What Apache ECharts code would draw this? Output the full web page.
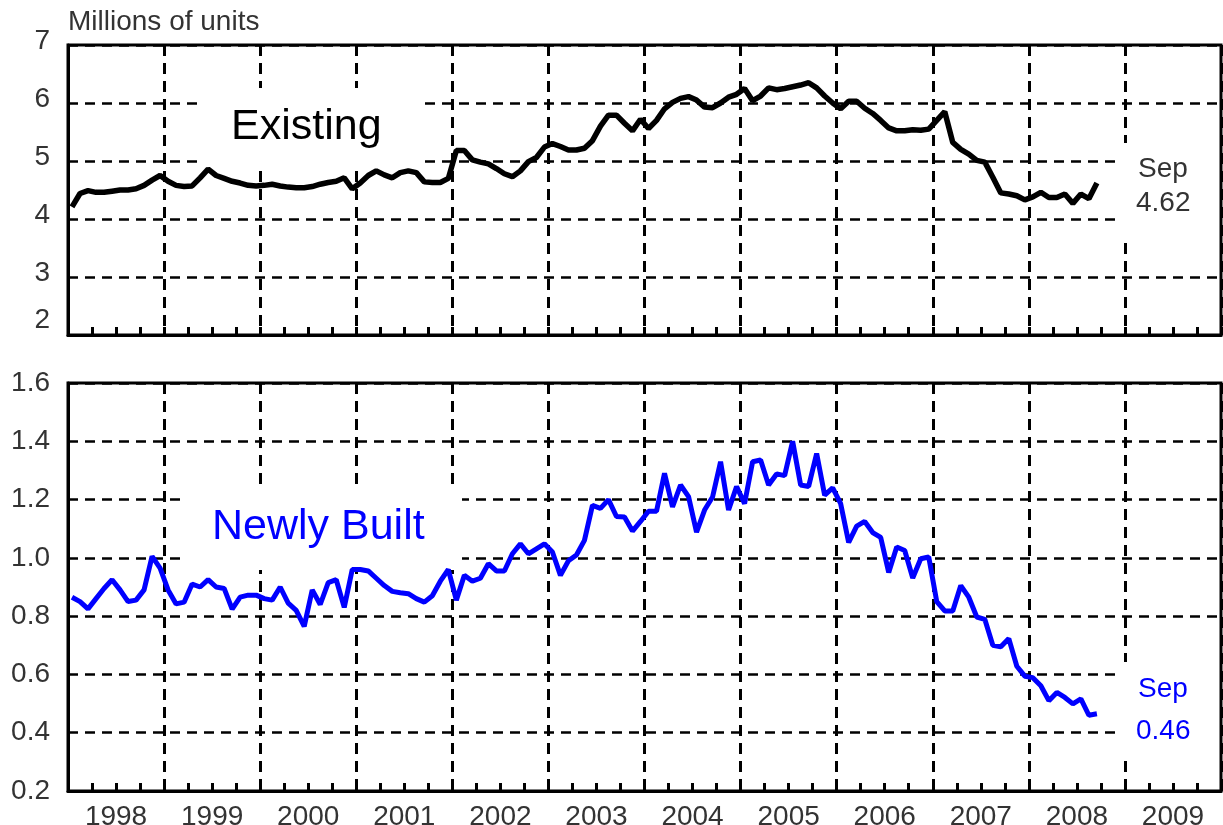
<!DOCTYPE html>
<html>
<head>
<meta charset="utf-8">
<script src="https://cdn.jsdelivr.net/npm/echarts@6/dist/echarts.min.js"></script>
<style>
    html, body { margin: 0; padding: 0; background: #fff; }
    #chart { width: 1223px; height: 825px; }
</style>
</head>
<body>
<div id="chart"></div>
<script>
// monthly series, Jan 1998 .. Sep 2008 (millions of units, annual rate)
const startYear = 1998
const yearLabels = ['1998', '1999', '2000', '2001', '2002', '2003', '2004', '2005', '2006', '2007', '2008', '2009']

const existing = [
    4.21, 4.44, 4.49, 4.46, 4.46, 4.48, 4.50, 4.50, 4.52, 4.58, 4.67, 4.75,
    4.65, 4.58, 4.56, 4.57, 4.71, 4.86, 4.75, 4.70, 4.65, 4.62, 4.58, 4.57,
    4.58, 4.60, 4.57, 4.55, 4.54, 4.54, 4.56, 4.60, 4.63, 4.65, 4.71, 4.52,
    4.62, 4.75, 4.83, 4.76, 4.71, 4.80, 4.83, 4.80, 4.64, 4.63, 4.63, 4.70,
    5.18, 5.18, 5.02, 4.98, 4.95, 4.87, 4.78, 4.73, 4.83, 4.99, 5.06, 5.24,
    5.30, 5.25, 5.19, 5.19, 5.22, 5.35, 5.60, 5.79, 5.79, 5.65, 5.52, 5.72,
    5.56, 5.70, 5.90, 6.01, 6.08, 6.11, 6.05, 5.93, 5.92, 6.00, 6.10, 6.15,
    6.25, 6.04, 6.12, 6.26, 6.23, 6.25, 6.28, 6.31, 6.35, 6.26, 6.12, 6.00,
    5.90, 6.03, 6.03, 5.91, 5.82, 5.70, 5.57, 5.52, 5.52, 5.54, 5.53, 5.55,
    5.70, 5.85, 5.32, 5.20, 5.12, 5.01, 4.98, 4.72, 4.45, 4.43, 4.40, 4.33,
    4.38, 4.46, 4.37, 4.37, 4.43, 4.27, 4.43, 4.35, 4.62
]

const newlyBuilt = [
    0.865, 0.85, 0.825, 0.86, 0.895, 0.925, 0.89, 0.85, 0.855, 0.89, 1.005, 0.965,
    0.89, 0.842, 0.848, 0.91, 0.90, 0.925, 0.90, 0.895, 0.824, 0.865, 0.872, 0.872,
    0.86, 0.855, 0.90, 0.845, 0.82, 0.765, 0.89, 0.84, 0.915, 0.925, 0.83, 0.96,
    0.96, 0.955, 0.93, 0.905, 0.885, 0.88, 0.877, 0.86, 0.848, 0.87, 0.92, 0.96,
    0.855, 0.94, 0.92, 0.93, 0.98, 0.955, 0.955, 1.014, 1.048, 1.014, 1.031, 1.048,
    1.02, 0.94, 0.99, 1.01, 1.06, 1.18, 1.17, 1.20, 1.142, 1.14, 1.092, 1.125,
    1.16, 1.16, 1.29, 1.175, 1.25, 1.21, 1.088, 1.164, 1.209, 1.33, 1.164, 1.245,
    1.186, 1.33, 1.336, 1.25, 1.288, 1.282, 1.40, 1.25, 1.245, 1.358, 1.215, 1.24,
    1.186, 1.053, 1.109, 1.125, 1.087, 1.07, 0.95, 1.037, 1.025, 0.931, 0.997, 1.003,
    0.85, 0.818, 0.818, 0.905, 0.865, 0.797, 0.789, 0.70, 0.695, 0.723, 0.628, 0.594,
    0.589, 0.561, 0.51, 0.538, 0.521, 0.499, 0.516, 0.46, 0.465
]

const lastLabel = { month: 'Sep', existing: '4.62', newlyBuilt: '0.46' }

// month i -> decimal year (mid-month)
const toPoints = arr => arr.map((v, i) => [startYear + (i + 0.5) / 12, v])

const FONT = '"Liberation Sans", Arial, sans-serif'
const TEXT = '#333'

function xAxisFor(gridIndex, withLabels) {
    return {
        type: 'value',
        gridIndex,
        min: 1998,
        max: 2010,
        interval: 1,
        axisLine: { show: true, onZero: false, lineStyle: { color: '#000', width: 3 } },
        axisTick: { show: true, inside: true, length: 8, lineStyle: { color: '#000', width: 3 } },
        minorTick: { show: true, splitNumber: 4, length: 8, lineStyle: { color: '#000', width: 3 } },
        splitLine: { show: true, lineStyle: { color: '#000', width: 3, type: [11, 7] } },
        axisLabel: withLabels ? {
            show: true,
            customValues: yearLabels.map(y => Number(y) + 0.5),
            formatter: v => String(Math.floor(v)),
            fontFamily: FONT,
            fontSize: 28,
            color: TEXT,
            margin: 12
        } : { show: false }
    }
}

function yAxisFor(gridIndex, min, max, interval, fmt, pad) {
    return {
        type: 'value',
        gridIndex,
        min,
        max,
        interval,
        axisLine: { show: true, lineStyle: { color: '#000', width: 3 } },
        axisTick: { show: false },
        splitLine: { show: true, lineStyle: { color: '#000', width: 2.5, type: [10, 7] } },
        axisLabel: {
            formatter: fmt,
            fontFamily: FONT,
            fontSize: 28,
            color: TEXT,
            margin: 18,
            padding: pad,
            rich: { low: { fontFamily: FONT, fontSize: 28, color: TEXT, padding: [0, 0, 22, 0] } }
        }
    }
}

// white boxes behind the annotations (they hide the grid lines)
function box(x, y, w, h) {
    return { type: 'rect', z: 1, shape: { x, y, width: w, height: h }, style: { fill: '#fff' }, silent: true }
}

function label(text, x, y, size, color) {
    return {
        type: 'text', z: 3, x, y,
        style: {
            text, fill: color, font: size + 'px ' + FONT,
            textAlign: 'left', align: 'left',
            textVerticalAlign: 'middle', verticalAlign: 'middle'
        }
    }
}

const chart = echarts.init(document.getElementById('chart'), null, { renderer: 'canvas' })

chart.setOption({
    animation: false,
    backgroundColor: '#fff',
    grid: [
        { left: 68, right: 2, top: 45, height: 290, show: true, borderColor: '#000', borderWidth: 3, outerBoundsMode: 'none' },
        { left: 68, right: 2, top: 383, height: 408, show: true, borderColor: '#000', borderWidth: 3, outerBoundsMode: 'none' }
    ],
    xAxis: [xAxisFor(0, false), xAxisFor(1, true)],
    yAxis: [
        // the lowest label of the top panel sits higher in the original
        yAxisFor(0, 2, 7, 1, v => (v === 2 ? '{low|2}' : String(Math.round(v))), [0, 0, 8, 0]),
        yAxisFor(1, 0.2, 1.6, 0.2, v => v.toFixed(1), 0)
    ],
    graphic: [
        box(200, 88, 223, 78),
        box(182, 490, 280, 80),
        box(1117, 143, 101, 97),
        box(1117, 662, 101, 95),
        label('Millions of units', 68, 22, 28, TEXT),
        label('Existing', 231, 127, 43, '#000'),
        label('Newly Built', 212, 527, 43, '#0000ff'),
        label(lastLabel.month, 1138, 169, 28, TEXT),
        label(lastLabel.existing, 1136, 203, 28, TEXT),
        label(lastLabel.month, 1138, 689, 28, '#0000ff'),
        label(lastLabel.newlyBuilt, 1136, 731, 28, '#0000ff')
    ],
    series: [
        {
            name: 'Existing',
            type: 'line',
            xAxisIndex: 0,
            yAxisIndex: 0,
            data: toPoints(existing),
            showSymbol: false,
            z: 5,
            lineStyle: { color: '#000', width: 5.5 }
        },
        {
            name: 'Newly Built',
            type: 'line',
            xAxisIndex: 1,
            yAxisIndex: 1,
            data: toPoints(newlyBuilt),
            showSymbol: false,
            z: 5,
            lineStyle: { color: '#0000ff', width: 5 }
        }
    ]
})
</script>
</body>
</html>
